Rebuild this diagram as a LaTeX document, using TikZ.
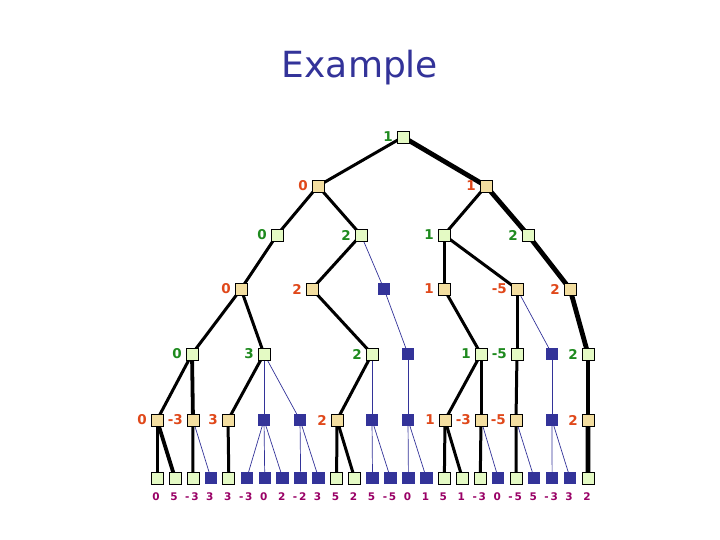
\documentclass[tikz,border=0pt]{standalone}
\usepackage{fontspec}
\setmainfont{DejaVu Sans}
\usetikzlibrary{backgrounds}
\definecolor{gfill}{HTML}{E4FAC4}
\definecolor{tfill}{HTML}{F3DEA0}
\definecolor{navy}{HTML}{333399}
\definecolor{glab}{HTML}{1E8A1E}
\definecolor{tlab}{HTML}{E0481A}
\definecolor{leaflab}{HTML}{990066}
\tikzset{
  sq/.style={minimum size=12pt, inner sep=0pt, outer sep=0pt},
  gsq/.style={sq, draw=black, line width=0.8pt, fill=gfill},
  tsq/.style={sq, draw=black, line width=0.8pt, fill=tfill},
  bsq/.style={sq, fill=navy, minimum size=12.5pt},
  gl/.style={text=glab, font=\bfseries\fontsize{13.5}{13.5}\selectfont},
  tl/.style={text=tlab, font=\bfseries\fontsize{13.5}{13.5}\selectfont},
  ll/.style={text=leaflab, font=\bfseries\fontsize{10.5}{10.5}\selectfont},
  every label/.style={inner sep=0pt},
  label distance=4pt,
  thk/.style={line width=3pt, black},
  vthk/.style={line width=3.8pt, black},
  xthk/.style={line width=4.8pt, black},
  thn/.style={line width=0.7pt, navy},
}
\begin{document}
\begin{tikzpicture}[x=1pt,y=-1pt]
\useasboundingbox (0,0) rectangle (720,540);
\node[text=navy, font=\fontsize{36}{36}\selectfont] (title) at (360,68) {Example};
% level 0
\node[gsq, label={[gl]left:1}] (r) at (403,137) {};
% level 1
\node[tsq, label={[tl]left:0}] (a) at (318,186) {};
\node[tsq, label={[tl]left:1}] (b) at (486,186) {};
% level 2
\node[gsq, label={[gl]left:0}] (c) at (277,235) {};
\node[gsq, label={[gl]left:2}] (d) at (361,235) {};
\node[gsq, label={[gl]left:1}] (e) at (444,235) {};
\node[gsq, label={[gl]left:2}] (f) at (528,235) {};
% level 3
\node[tsq, label={[tl]left:0}] (g) at (241,289) {};
\node[tsq, label={[tl]left:2}] (h) at (312,289) {};
\node[bsq] (i) at (384,289) {};
\node[tsq, label={[tl]left:1}] (j) at (444,289) {};
\node[tsq, label={[tl]left:-5}] (k) at (517,289) {};
\node[tsq, label={[tl]left:2}] (l) at (570,289) {};
% level 4
\node[gsq, label={[gl]left:0}] (m) at (192,354) {};
\node[gsq, label={[gl]left:3}] (n) at (264,354) {};
\node[gsq, label={[gl]left:2}] (o) at (372,354) {};
\node[bsq] (p) at (408,354) {};
\node[gsq, label={[gl]left:1}] (q) at (481,354) {};
\node[gsq, label={[gl]left:-5}] (rr) at (517,354) {};
\node[bsq] (t) at (552,354) {};
\node[gsq, label={[gl]left:2}] (u) at (588,354) {};
% level 5
\node[tsq, label={[tl]left:0}] (v0) at (157,420) {};
\node[tsq, label={[tl]left:-3}] (v1) at (193,420) {};
\node[tsq, label={[tl]left:3}] (v2) at (228,420) {};
\node[bsq] (v3) at (264,420) {};
\node[bsq] (v4) at (300,420) {};
\node[tsq, label={[tl]left:2}] (v5) at (337,420) {};
\node[bsq] (v6) at (372,420) {};
\node[bsq] (v7) at (408,420) {};
\node[tsq, label={[tl]left:1}] (v8) at (445,420) {};
\node[tsq, label={[tl]left:-3}] (v9) at (481,420) {};
\node[tsq, label={[tl]left:-5}] (v10) at (516,420) {};
\node[bsq] (v11) at (552,420) {};
\node[tsq, label={[tl]left:2}] (v12) at (588,420) {};
% leaves
\foreach \k/\st/\val in {0/gsq/0,1/gsq/5,2/gsq/-\,3,3/bsq/3,4/gsq/3,5/bsq/-\,3,6/bsq/0,7/bsq/2,8/bsq/-\,2,9/bsq/3,10/gsq/5,11/gsq/2,12/bsq/5,13/bsq/-\,5,14/bsq/0,15/bsq/1,16/gsq/5,17/gsq/1,18/gsq/-\,3,19/bsq/0,20/gsq/-\,5,21/bsq/5,22/bsq/-\,3,23/bsq/3,24/gsq/2}{
  \node[\st] (L\k) at ({157+17.96*\k},478) {};
  \node[ll] (T\k) at ({157+17.96*\k-1},497) {\val};
}
\begin{scope}[on background layer]
\fill[white] (0,0) rectangle (720,540);
\draw[thk] (r.center) -- (a.center);
\draw[xthk] (r.center) -- (b.center);
\draw[thk] (a.center) -- (c.center);
\draw[thk] (a.center) -- (d.center);
\draw[thk] (b.center) -- (e.center);
\draw[xthk] (b.center) -- (f.center);
\draw[thk] (c.center) -- (g.center);
\draw[thk] (d.center) -- (h.center);
\draw[thn] (d.center) -- (i.center);
\draw[thk] (e.center) -- (j.center);
\draw[thk] (e.center) -- (k.center);
\draw[xthk] (f.center) -- (l.center);
\draw[thk] (g.center) -- (m.center);
\draw[thk] (g.center) -- (n.center);
\draw[thk] (h.center) -- (o.center);
\draw[thn] (i.center) -- (p.center);
\draw[thk] (j.center) -- (q.center);
\draw[thk] (k.center) -- (rr.center);
\draw[thn] (k.center) -- (t.center);
\draw[xthk] (l.center) -- (u.center);
\draw[thk] (m.center) -- (v0.center);
\draw[vthk] (m.center) -- (v1.center);
\draw[thk] (n.center) -- (v2.center);
\draw[thn] (n.center) -- (v3.center);
\draw[thn] (n.center) -- (v4.center);
\draw[thk] (o.center) -- (v5.center);
\draw[thn] (o.center) -- (v6.center);
\draw[thn] (p.center) -- (v7.center);
\draw[thk] (q.center) -- (v8.center);
\draw[thk] (q.center) -- (v9.center);
\draw[thk] (rr.center) -- (v10.center);
\draw[thn] (t.center) -- (v11.center);
\draw[xthk] (u.center) -- (v12.center);
\draw[thk] (v0.center) -- (L0.center);
\draw[vthk] (v0.center) -- (L1.center);
\draw[thk] (v1.center) -- (L2.center);
\draw[thn] (v1.center) -- (L3.center);
\draw[thk] (v2.center) -- (L4.center);
\draw[thn] (v3.center) -- (L5.center);
\draw[thn] (v3.center) -- (L6.center);
\draw[thn] (v3.center) -- (L7.center);
\draw[thn] (v4.center) -- (L8.center);
\draw[thn] (v4.center) -- (L9.center);
\draw[thk] (v5.center) -- (L10.center);
\draw[thk] (v5.center) -- (L11.center);
\draw[thn] (v6.center) -- (L12.center);
\draw[thn] (v6.center) -- (L13.center);
\draw[thn] (v7.center) -- (L14.center);
\draw[thn] (v7.center) -- (L15.center);
\draw[thk] (v8.center) -- (L16.center);
\draw[thk] (v8.center) -- (L17.center);
\draw[thk] (v9.center) -- (L18.center);
\draw[thn] (v9.center) -- (L19.center);
\draw[thk] (v10.center) -- (L20.center);
\draw[thn] (v10.center) -- (L21.center);
\draw[thn] (v11.center) -- (L22.center);
\draw[thn] (v11.center) -- (L23.center);
\draw[xthk] (v12.center) -- (L24.center);
\end{scope}
\end{tikzpicture}
\end{document}
